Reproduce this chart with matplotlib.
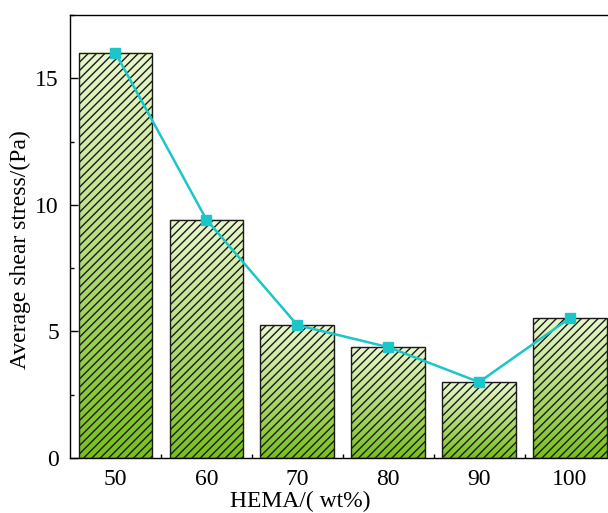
import numpy as np
import matplotlib
matplotlib.use("Agg")
import matplotlib.pyplot as plt
from matplotlib.colors import LinearSegmentedColormap
from matplotlib.ticker import MultipleLocator

categories = ["50", "60", "70", "80", "90", "100"]
values = [16.0, 9.42, 5.25, 4.38, 3.0, 5.53]

plt.rcParams['font.family'] = ['Liberation Serif', 'DejaVu Serif']
plt.rcParams['hatch.linewidth'] = 1.0

fig = plt.figure(figsize=(6.08, 5.13), dpi=100)
ax = fig.add_axes([70/608, 55/513, 545.5/608, 443/513])

x = np.arange(len(categories))
width = 0.81
cmap = LinearSegmentedColormap.from_list("g", ["#78c01a", "#b4dc78", "#e9f8cd"])
grad = np.linspace(0, 1, 256).reshape(-1, 1)

bars = ax.bar(x, values, width=width, facecolor='none', edgecolor='#1a1a1a',
              hatch='////', linewidth=1.0, zorder=3)
for b in bars:
    x0, y0 = b.get_x(), b.get_y()
    w, h = b.get_width(), b.get_height()
    ax.imshow(grad, cmap=cmap, aspect='auto', origin='lower',
              extent=[x0, x0 + w, y0, y0 + h], zorder=2)

ax.plot(x, values, color='#1cc6c8', marker='s', markersize=7, linewidth=1.8, zorder=4)

ax.set_xlim(-0.5, len(categories) - 0.5)
ax.set_ylim(0, 17.5)
ax.set_xticks(x)
ax.set_xticklabels(categories)
ax.set_xticks(x[:-1] + 0.5, minor=True)
ax.yaxis.set_major_locator(MultipleLocator(5))
ax.yaxis.set_minor_locator(MultipleLocator(2.5))
ax.tick_params(which='major', direction='in', length=6, width=1.0, labelsize=17)
ax.tick_params(which='minor', direction='in', length=3, width=1.0)
ax.tick_params(axis='x', pad=8)
ax.tick_params(axis='y', pad=8)
for s in ax.spines.values():
    s.set_linewidth(1.0)

ax.set_xlabel("HEMA/( wt%)", fontsize=17)
ax.xaxis.set_label_coords(0.423, -0.075)
ax.set_ylabel("Average shear stress/(Pa)", fontsize=17)
ax.yaxis.set_label_coords(-0.0715, 0.47)

fig.savefig("out.png", dpi=100)
